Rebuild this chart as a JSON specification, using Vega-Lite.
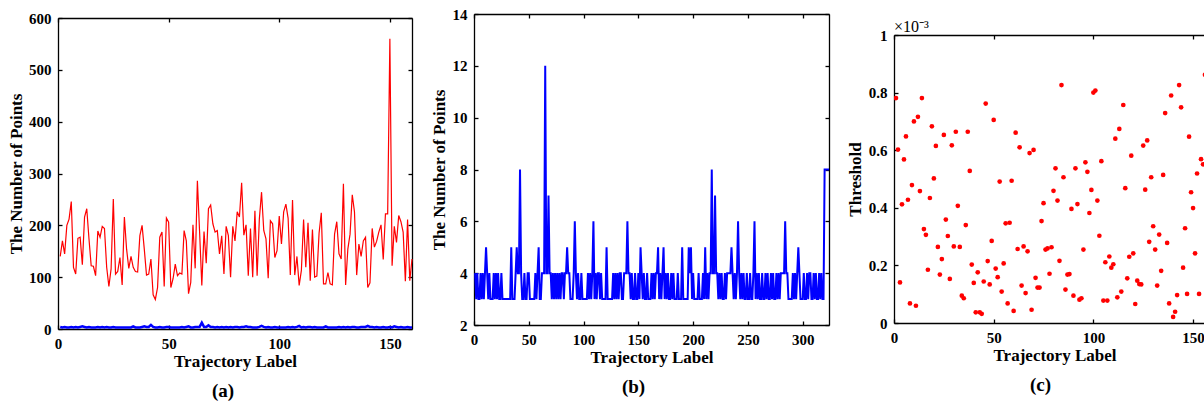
{
"$schema": "https://vega.github.io/schema/vega-lite/v6.json",
"padding": {"left": 7, "top": 7, "right": 0, "bottom": 0},
"config": {
  "view": {"stroke": null},
  "font": "Liberation Serif",
  "axis": {"labelFont": "Liberation Serif", "labelFontSize": 15, "labelFontWeight": "bold", "labelColor": "#000000",
           "titleFont": "Liberation Serif", "titleFontSize": 17, "titleFontWeight": "bold", "titleColor": "#000000",
           "domainColor": "#000000", "domainWidth": 1.3, "tickColor": "#000000", "tickWidth": 1.3, "tickSize": -4,
           "grid": false, "labelFlush": false, "labelOverlap": false, "labelPadding": 11, "titlePadding": 2},
  "title": {"font": "Liberation Serif", "fontSize": 19, "fontWeight": "bold", "color": "#000000"}
},
"datasets": {
"red": [{"x":1,"y":140},{"x":2,"y":170},{"x":3,"y":145},{"x":4,"y":200},{"x":5,"y":212},{"x":6,"y":246},{"x":7,"y":119},{"x":8,"y":106},{"x":9,"y":175},{"x":10,"y":177},{"x":11,"y":124},{"x":12,"y":216},{"x":13,"y":232},{"x":14,"y":174},{"x":15,"y":122},{"x":16,"y":121},{"x":17,"y":103},{"x":18,"y":189},{"x":19,"y":177},{"x":20,"y":198},{"x":21,"y":194},{"x":22,"y":119},{"x":23,"y":82},{"x":24,"y":116},{"x":25,"y":251},{"x":26,"y":106},{"x":27,"y":111},{"x":28,"y":138},{"x":29,"y":85},{"x":30,"y":216},{"x":31,"y":154},{"x":32,"y":117},{"x":33,"y":140},{"x":34,"y":119},{"x":35,"y":111},{"x":36,"y":110},{"x":37,"y":180},{"x":38,"y":200},{"x":39,"y":154},{"x":40,"y":104},{"x":41,"y":106},{"x":42,"y":135},{"x":43,"y":66},{"x":44,"y":57},{"x":45,"y":80},{"x":46,"y":177},{"x":47,"y":187},{"x":48,"y":82},{"x":49,"y":214},{"x":50,"y":206},{"x":51,"y":80},{"x":52,"y":97},{"x":53,"y":125},{"x":54,"y":103},{"x":55,"y":108},{"x":56,"y":106},{"x":57,"y":190},{"x":58,"y":170},{"x":59,"y":68},{"x":60,"y":90},{"x":61,"y":201},{"x":62,"y":117},{"x":63,"y":286},{"x":64,"y":187},{"x":65,"y":84},{"x":66,"y":188},{"x":67,"y":127},{"x":68,"y":232},{"x":69,"y":239},{"x":70,"y":203},{"x":71,"y":187},{"x":72,"y":190},{"x":73,"y":145},{"x":74,"y":180},{"x":75,"y":106},{"x":76,"y":198},{"x":77,"y":180},{"x":78,"y":100},{"x":79,"y":198},{"x":80,"y":170},{"x":81,"y":226},{"x":82,"y":216},{"x":83,"y":282},{"x":84,"y":181},{"x":85,"y":201},{"x":86,"y":103},{"x":87,"y":194},{"x":88,"y":100},{"x":89,"y":228},{"x":90,"y":103},{"x":91,"y":212},{"x":92,"y":264},{"x":93,"y":190},{"x":94,"y":174},{"x":95,"y":98},{"x":96,"y":209},{"x":97,"y":203},{"x":98,"y":138},{"x":99,"y":151},{"x":100,"y":218},{"x":101,"y":164},{"x":102,"y":226},{"x":103,"y":241},{"x":104,"y":214},{"x":105,"y":104},{"x":106,"y":249},{"x":107,"y":104},{"x":108,"y":140},{"x":109,"y":84},{"x":110,"y":113},{"x":111,"y":211},{"x":112,"y":119},{"x":113,"y":205},{"x":114,"y":93},{"x":115,"y":192},{"x":116,"y":100},{"x":117,"y":102},{"x":118,"y":185},{"x":119,"y":224},{"x":120,"y":87},{"x":121,"y":87},{"x":122,"y":109},{"x":123,"y":87},{"x":124,"y":85},{"x":125,"y":183},{"x":126,"y":207},{"x":127,"y":145},{"x":128,"y":135},{"x":129,"y":280},{"x":130,"y":85},{"x":131,"y":154},{"x":132,"y":183},{"x":133,"y":259},{"x":134,"y":226},{"x":135,"y":104},{"x":136,"y":164},{"x":137,"y":140},{"x":138,"y":170},{"x":139,"y":177},{"x":140,"y":80},{"x":141,"y":89},{"x":142,"y":194},{"x":143,"y":158},{"x":144,"y":169},{"x":145,"y":187},{"x":146,"y":201},{"x":147,"y":134},{"x":148,"y":222},{"x":149,"y":222},{"x":150,"y":560},{"x":151,"y":122},{"x":152,"y":198},{"x":153,"y":167},{"x":154,"y":219},{"x":155,"y":207},{"x":156,"y":187},{"x":157,"y":92},{"x":158,"y":211},{"x":159,"y":93},{"x":160,"y":135}],
"pts": [{"x":1,"y":4},{"x":2,"y":3},{"x":3,"y":4},{"x":4,"y":3},{"x":5,"y":3},{"x":6,"y":4},{"x":7,"y":3},{"x":8,"y":4},{"x":9,"y":3},{"x":10,"y":4},{"x":11,"y":5},{"x":12,"y":4},{"x":13,"y":3},{"x":14,"y":4},{"x":15,"y":3},{"x":16,"y":3},{"x":17,"y":3},{"x":18,"y":4},{"x":19,"y":3},{"x":20,"y":4},{"x":21,"y":3},{"x":22,"y":4},{"x":23,"y":3},{"x":24,"y":3},{"x":25,"y":4},{"x":26,"y":3},{"x":27,"y":3},{"x":28,"y":3},{"x":29,"y":3},{"x":30,"y":3},{"x":31,"y":3},{"x":32,"y":3},{"x":33,"y":3},{"x":34,"y":5},{"x":35,"y":3},{"x":36,"y":3},{"x":37,"y":3},{"x":38,"y":4},{"x":39,"y":5},{"x":40,"y":4},{"x":41,"y":4},{"x":42,"y":8},{"x":43,"y":4},{"x":44,"y":3},{"x":45,"y":3},{"x":46,"y":4},{"x":47,"y":3},{"x":48,"y":3},{"x":49,"y":4},{"x":50,"y":4},{"x":51,"y":3},{"x":52,"y":3},{"x":53,"y":3},{"x":54,"y":3},{"x":55,"y":3},{"x":56,"y":4},{"x":57,"y":3},{"x":58,"y":4},{"x":59,"y":5},{"x":60,"y":3},{"x":61,"y":3},{"x":62,"y":4},{"x":63,"y":4},{"x":64,"y":4},{"x":65,"y":12},{"x":66,"y":4},{"x":67,"y":4},{"x":68,"y":7},{"x":69,"y":4},{"x":70,"y":4},{"x":71,"y":3},{"x":72,"y":4},{"x":73,"y":3},{"x":74,"y":4},{"x":75,"y":3},{"x":76,"y":4},{"x":77,"y":3},{"x":78,"y":4},{"x":79,"y":3},{"x":80,"y":4},{"x":81,"y":4},{"x":82,"y":3},{"x":83,"y":4},{"x":84,"y":4},{"x":85,"y":5},{"x":86,"y":4},{"x":87,"y":4},{"x":88,"y":3},{"x":89,"y":3},{"x":90,"y":3},{"x":91,"y":4},{"x":92,"y":6},{"x":93,"y":4},{"x":94,"y":3},{"x":95,"y":4},{"x":96,"y":3},{"x":97,"y":3},{"x":98,"y":4},{"x":99,"y":3},{"x":100,"y":3},{"x":101,"y":3},{"x":102,"y":3},{"x":103,"y":3},{"x":104,"y":4},{"x":105,"y":3},{"x":106,"y":4},{"x":107,"y":3},{"x":108,"y":4},{"x":109,"y":6},{"x":110,"y":3},{"x":111,"y":4},{"x":112,"y":3},{"x":113,"y":4},{"x":114,"y":4},{"x":115,"y":3},{"x":116,"y":4},{"x":117,"y":3},{"x":118,"y":3},{"x":119,"y":3},{"x":120,"y":3},{"x":121,"y":5},{"x":122,"y":3},{"x":123,"y":3},{"x":124,"y":3},{"x":125,"y":3},{"x":126,"y":3},{"x":127,"y":4},{"x":128,"y":3},{"x":129,"y":4},{"x":130,"y":3},{"x":131,"y":4},{"x":132,"y":3},{"x":133,"y":4},{"x":134,"y":4},{"x":135,"y":3},{"x":136,"y":3},{"x":137,"y":4},{"x":138,"y":4},{"x":139,"y":4},{"x":140,"y":6},{"x":141,"y":4},{"x":142,"y":4},{"x":143,"y":3},{"x":144,"y":4},{"x":145,"y":3},{"x":146,"y":3},{"x":147,"y":4},{"x":148,"y":3},{"x":149,"y":3},{"x":150,"y":4},{"x":151,"y":3},{"x":152,"y":5},{"x":153,"y":4},{"x":154,"y":3},{"x":155,"y":4},{"x":156,"y":3},{"x":157,"y":3},{"x":158,"y":4},{"x":159,"y":3},{"x":160,"y":3},{"x":161,"y":3},{"x":162,"y":4},{"x":163,"y":3},{"x":164,"y":4},{"x":165,"y":3},{"x":166,"y":4},{"x":167,"y":4},{"x":168,"y":5},{"x":169,"y":3},{"x":170,"y":4},{"x":171,"y":3},{"x":172,"y":4},{"x":173,"y":5},{"x":174,"y":3},{"x":175,"y":4},{"x":176,"y":3},{"x":177,"y":4},{"x":178,"y":3},{"x":179,"y":3},{"x":180,"y":4},{"x":181,"y":3},{"x":182,"y":4},{"x":183,"y":3},{"x":184,"y":3},{"x":185,"y":3},{"x":186,"y":4},{"x":187,"y":3},{"x":188,"y":3},{"x":189,"y":3},{"x":190,"y":5},{"x":191,"y":3},{"x":192,"y":3},{"x":193,"y":3},{"x":194,"y":3},{"x":195,"y":3},{"x":196,"y":5},{"x":197,"y":4},{"x":198,"y":5},{"x":199,"y":3},{"x":200,"y":4},{"x":201,"y":3},{"x":202,"y":3},{"x":203,"y":3},{"x":204,"y":3},{"x":205,"y":4},{"x":206,"y":3},{"x":207,"y":3},{"x":208,"y":3},{"x":209,"y":4},{"x":210,"y":3},{"x":211,"y":5},{"x":212,"y":3},{"x":213,"y":4},{"x":214,"y":3},{"x":215,"y":4},{"x":216,"y":4},{"x":217,"y":8},{"x":218,"y":4},{"x":219,"y":4},{"x":220,"y":7},{"x":221,"y":4},{"x":222,"y":4},{"x":223,"y":3},{"x":224,"y":4},{"x":225,"y":3},{"x":226,"y":4},{"x":227,"y":3},{"x":228,"y":3},{"x":229,"y":4},{"x":230,"y":3},{"x":231,"y":4},{"x":232,"y":4},{"x":233,"y":4},{"x":234,"y":4},{"x":235,"y":5},{"x":236,"y":4},{"x":237,"y":3},{"x":238,"y":4},{"x":239,"y":3},{"x":240,"y":4},{"x":241,"y":6},{"x":242,"y":4},{"x":243,"y":3},{"x":244,"y":4},{"x":245,"y":3},{"x":246,"y":4},{"x":247,"y":3},{"x":248,"y":3},{"x":249,"y":4},{"x":250,"y":3},{"x":251,"y":3},{"x":252,"y":4},{"x":253,"y":3},{"x":254,"y":3},{"x":255,"y":4},{"x":256,"y":6},{"x":257,"y":3},{"x":258,"y":4},{"x":259,"y":3},{"x":260,"y":4},{"x":261,"y":3},{"x":262,"y":3},{"x":263,"y":4},{"x":264,"y":3},{"x":265,"y":3},{"x":266,"y":4},{"x":267,"y":3},{"x":268,"y":4},{"x":269,"y":3},{"x":270,"y":3},{"x":271,"y":4},{"x":272,"y":3},{"x":273,"y":4},{"x":274,"y":3},{"x":275,"y":3},{"x":276,"y":4},{"x":277,"y":3},{"x":278,"y":4},{"x":279,"y":3},{"x":280,"y":4},{"x":281,"y":4},{"x":282,"y":4},{"x":283,"y":4},{"x":284,"y":6},{"x":285,"y":4},{"x":286,"y":4},{"x":287,"y":3},{"x":288,"y":3},{"x":289,"y":3},{"x":290,"y":3},{"x":291,"y":4},{"x":292,"y":3},{"x":293,"y":4},{"x":294,"y":3},{"x":295,"y":4},{"x":296,"y":5},{"x":297,"y":4},{"x":298,"y":3},{"x":299,"y":3},{"x":300,"y":3},{"x":301,"y":4},{"x":302,"y":3},{"x":303,"y":3},{"x":304,"y":4},{"x":305,"y":3},{"x":306,"y":4},{"x":307,"y":4},{"x":308,"y":3},{"x":309,"y":3},{"x":310,"y":4},{"x":311,"y":3},{"x":312,"y":4},{"x":313,"y":3},{"x":314,"y":3},{"x":315,"y":4},{"x":316,"y":3},{"x":317,"y":4},{"x":318,"y":3},{"x":319,"y":3},{"x":320,"y":8},{"x":321,"y":8},{"x":322,"y":8},{"x":323,"y":8},{"x":324,"y":8}],
"thr": [{"x":1,"y":0.781},{"x":2,"y":0.602},{"x":3,"y":0.141},{"x":4,"y":0.412},{"x":5,"y":0.568},{"x":6,"y":0.648},{"x":7,"y":0.428},{"x":8,"y":0.068},{"x":9,"y":0.479},{"x":10,"y":0.7},{"x":11,"y":0.06},{"x":12,"y":0.716},{"x":13,"y":0.458},{"x":14,"y":0.781},{"x":15,"y":0.326},{"x":16,"y":0.306},{"x":17,"y":0.185},{"x":18,"y":0.434},{"x":19,"y":0.683},{"x":20,"y":0.502},{"x":21,"y":0.615},{"x":22,"y":0.264},{"x":23,"y":0.168},{"x":24,"y":0.222},{"x":25,"y":0.653},{"x":26,"y":0.359},{"x":27,"y":0.302},{"x":28,"y":0.153},{"x":29,"y":0.617},{"x":30,"y":0.266},{"x":31,"y":0.664},{"x":32,"y":0.407},{"x":33,"y":0.264},{"x":34,"y":0.095},{"x":35,"y":0.086},{"x":36,"y":0.34},{"x":37,"y":0.664},{"x":38,"y":0.528},{"x":39,"y":0.203},{"x":40,"y":0.139},{"x":41,"y":0.037},{"x":42,"y":0.176},{"x":43,"y":0.037},{"x":44,"y":0.032},{"x":45,"y":0.144},{"x":46,"y":0.762},{"x":47,"y":0.215},{"x":48,"y":0.134},{"x":49,"y":0.285},{"x":50,"y":0.705},{"x":51,"y":0.189},{"x":52,"y":0.159},{"x":53,"y":0.491},{"x":54,"y":0.109},{"x":55,"y":0.207},{"x":56,"y":0.346},{"x":57,"y":0.068},{"x":58,"y":0.348},{"x":59,"y":0.494},{"x":60,"y":0.042},{"x":61,"y":0.661},{"x":62,"y":0.257},{"x":63,"y":0.61},{"x":64,"y":0.13},{"x":65,"y":0.266},{"x":66,"y":0.104},{"x":67,"y":0.249},{"x":68,"y":0.59},{"x":69,"y":0.046},{"x":70,"y":0.601},{"x":71,"y":0.157},{"x":72,"y":0.123},{"x":73,"y":0.123},{"x":74,"y":0.354},{"x":75,"y":0.416},{"x":76,"y":0.255},{"x":77,"y":0.259},{"x":78,"y":0.171},{"x":79,"y":0.263},{"x":80,"y":0.459},{"x":81,"y":0.537},{"x":82,"y":0.425},{"x":83,"y":0.216},{"x":84,"y":0.826},{"x":85,"y":0.506},{"x":86,"y":0.116},{"x":87,"y":0.168},{"x":88,"y":0.17},{"x":89,"y":0.396},{"x":90,"y":0.095},{"x":91,"y":0.537},{"x":92,"y":0.413},{"x":93,"y":0.081},{"x":94,"y":0.086},{"x":95,"y":0.255},{"x":96,"y":0.558},{"x":97,"y":0.525},{"x":98,"y":0.382},{"x":99,"y":0.462},{"x":100,"y":0.8},{"x":101,"y":0.807},{"x":102,"y":0.425},{"x":103,"y":0.303},{"x":104,"y":0.562},{"x":105,"y":0.078},{"x":106,"y":0.211},{"x":107,"y":0.078},{"x":108,"y":0.231},{"x":109,"y":0.192},{"x":110,"y":0.204},{"x":111,"y":0.64},{"x":112,"y":0.089},{"x":113,"y":0.674},{"x":114,"y":0.109},{"x":115,"y":0.757},{"x":116,"y":0.468},{"x":117,"y":0.155},{"x":118,"y":0.23},{"x":119,"y":0.581},{"x":120,"y":0.242},{"x":121,"y":0.066},{"x":122,"y":0.147},{"x":123,"y":0.135},{"x":124,"y":0.134},{"x":125,"y":0.616},{"x":126,"y":0.463},{"x":127,"y":0.634},{"x":128,"y":0.282},{"x":129,"y":0.506},{"x":130,"y":0.336},{"x":131,"y":0.255},{"x":132,"y":0.13},{"x":133,"y":0.307},{"x":134,"y":0.181},{"x":135,"y":0.514},{"x":136,"y":0.729},{"x":137,"y":0.278},{"x":138,"y":0.068},{"x":139,"y":0.79},{"x":140,"y":0.021},{"x":141,"y":0.039},{"x":142,"y":0.097},{"x":143,"y":0.826},{"x":144,"y":0.749},{"x":145,"y":0.192},{"x":146,"y":0.329},{"x":147,"y":0.101},{"x":148,"y":0.647},{"x":149,"y":0.454},{"x":150,"y":0.399},{"x":151,"y":0.242},{"x":152,"y":0.519},{"x":153,"y":0.101},{"x":154,"y":0.569},{"x":155,"y":0.551},{"x":156,"y":0.862},{"x":157,"y":0.124},{"x":158,"y":0.606},{"x":159,"y":0.118},{"x":160,"y":0.181},{"x":161,"y":0.431}]
},
"hconcat": [
 {
  "width": 354, "height": 315,
  "title": {"text": "(a)", "orient": "bottom", "frame": "group", "anchor": "middle", "dx": -12, "offset": 13},
  "layer": [
   {"data": {"name": "red"}, "mark": {"type": "line", "color": "#ff0000", "strokeWidth": 1.2},
    "encoding": {
     "x": {"field": "x", "type": "quantitative", "scale": {"domain": [0, 160], "nice": false, "zero": false},
           "axis": {"orient": "bottom", "title": "Trajectory Label", "values": [0, 50, 100, 150]}},
     "y": {"field": "y", "type": "quantitative", "scale": {"domain": [0, 600], "nice": false, "range": [315, 4]},
           "axis": {"orient": "left", "title": "The Number of Points", "values": [0, 100, 200, 300, 400, 500, 600], "minExtent": 30, "maxExtent": 30, "titlePadding": 3}}}},
   {"data": {"name": "pts"}, "transform": [{"filter": {"field": "x", "lte": 160}}],
    "mark": {"type": "line", "color": "#0000ff", "strokeWidth": 2.5},
    "encoding": {
     "x": {"field": "x", "type": "quantitative", "axis": {"orient": "top", "labels": false, "title": null, "values": [0, 50, 100, 150], "offset": -4}},
     "y": {"field": "y", "type": "quantitative", "axis": {"orient": "right", "labels": false, "title": null, "values": [0, 100, 200, 300, 400, 500, 600]}}}}
  ],
  "resolve": {"axis": {"x": "independent", "y": "independent"}}
 },
 {
  "width": 355, "height": 315,
  "title": {"text": "(b)", "orient": "bottom", "frame": "group", "anchor": "middle", "dx": -18, "offset": 13},
  "layer": [
   {"data": {"name": "pts"}, "mark": {"type": "line", "color": "#0000ff", "strokeWidth": 2},
    "encoding": {
     "x": {"field": "x", "type": "quantitative", "scale": {"domain": [0, 324], "nice": false, "zero": false},
           "axis": {"orient": "bottom", "title": "Trajectory Label", "values": [0, 50, 100, 150, 200, 250, 300], "offset": -4}},
     "y": {"field": "y", "type": "quantitative", "scale": {"domain": [2, 14], "nice": false, "zero": false, "range": [311, 0]},
           "axis": {"orient": "left", "title": "The Number of Points", "values": [2, 4, 6, 8, 10, 12, 14], "minExtent": 23, "maxExtent": 23, "titlePadding": 3}}}},
   {"data": {"values": [{}]}, "mark": {"type": "text", "text": ""},
    "encoding": {
     "x": {"datum": 0, "type": "quantitative", "axis": {"orient": "top", "labels": false, "title": null, "values": [0, 50, 100, 150, 200, 250, 300]}},
     "y": {"datum": 2, "type": "quantitative", "axis": {"orient": "right", "labels": false, "title": null, "values": [2, 4, 6, 8, 10, 12, 14]}}}}
  ],
  "resolve": {"axis": {"x": "independent", "y": "independent"}}
 },
 {
  "width": 321, "height": 315,
  "title": {"text": "(c)", "orient": "bottom", "frame": "group", "anchor": "middle", "dx": -14, "offset": 13},
  "layer": [
   {"data": {"name": "thr"}, "mark": {"type": "circle", "color": "#ff0000", "size": 22, "opacity": 1, "clip": true},
    "encoding": {
     "x": {"field": "x", "type": "quantitative", "scale": {"domain": [0, 161], "nice": false, "zero": false},
           "axis": {"orient": "bottom", "title": "Trajectory Label", "values": [0, 50, 100, 150], "offset": -6}},
     "y": {"field": "y", "type": "quantitative", "scale": {"domain": [0, 1], "nice": false, "range": [309, 21]},
           "axis": {"orient": "left", "title": "Threshold", "values": [0, 0.2, 0.4, 0.6, 0.8, 1], "format": "~g", "minExtent": 27, "maxExtent": 27, "titlePadding": 3}}}},
   {"data": {"values": [{}]}, "mark": {"type": "text", "text": "×10⁻³", "align": "left", "baseline": "alphabetic", "dy": -3, "fontSize": 16, "font": "Liberation Serif", "color": "#000000"},
    "encoding": {
     "x": {"datum": 0, "type": "quantitative", "axis": {"orient": "top", "labels": false, "title": null, "values": [0, 50, 100, 150], "offset": -21}},
     "y": {"datum": 1, "type": "quantitative", "axis": null}}}
  ],
  "resolve": {"axis": {"x": "independent", "y": "independent"}}
 }
],
"spacing": 13
}
